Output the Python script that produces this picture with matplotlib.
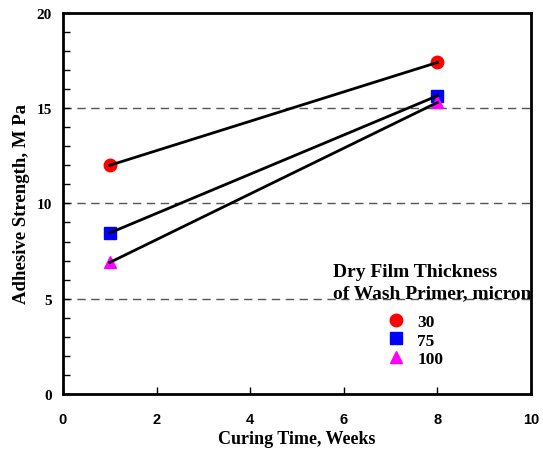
import numpy as np
import matplotlib.pyplot as plt
from matplotlib.ticker import MultipleLocator

# curing time (weeks) and adhesive strength (MPa) for each primer thickness
weeks = [1, 8]
dft_30 = [12.0, 17.4]
dft_75 = [8.45, 15.65]
dft_100 = [6.9, 15.3]
labels = ['30', '75', '100']

plt.rcParams['font.family'] = ['Liberation Serif', 'DejaVu Serif']
plt.rcParams['font.weight'] = 'bold'

fig = plt.figure(figsize=(5.43, 4.56), dpi=100)
ax = fig.add_axes([0.116, 0.134, 0.862, 0.8355])

# dashed reference lines
for yv in [5, 10, 15]:
    ax.axhline(yv, color='#555555', ls=(0, (6, 4)), lw=1, zorder=1)

h1, = ax.plot(weeks, dft_30, 'o', color='red', ms=9, zorder=2, label=labels[0])
h2, = ax.plot(weeks, dft_75, 's', color='blue', ms=9, zorder=2, label=labels[1])
h3, = ax.plot(weeks, dft_100, '^', color='magenta', ms=9, zorder=2, label=labels[2])
for ys in [dft_30, dft_75, dft_100]:
    ax.plot(weeks, ys, color='black', lw=2, zorder=3)

ax.set_xlim(0, 10)
ax.set_ylim(0, 20)
ax.xaxis.set_major_locator(MultipleLocator(2))
ax.yaxis.set_major_locator(MultipleLocator(5))
ax.yaxis.set_minor_locator(MultipleLocator(1))
ax.tick_params(direction='in', top=False, right=False, width=1, length=5)
ax.tick_params(which='minor', direction='in', width=1, length=5)
ax.tick_params(axis='y', labelsize=11, pad=8)
ax.tick_params(axis='x', labelsize=10.5, pad=13)
for t in ax.get_xticklabels():
    t.set_family(['Liberation Sans', 'DejaVu Sans'])
for s in ax.spines.values():
    s.set_linewidth(2)

ax.set_xlabel('Curing Time, Weeks', fontsize=13, fontweight='bold', labelpad=3)
ax.set_ylabel('Adhesive Strength, M Pa', fontsize=13.5, fontweight='bold', labelpad=5)

ax.text(0.577, 0.294, 'Dry Film Thickness\nof Wash Primer, micron', transform=ax.transAxes,
        ha='left', va='center', fontsize=14, fontweight='bold', linespacing=1.3)
ax.legend(handles=[h1, h2, h3], loc='upper left', bbox_to_anchor=(0.675, 0.232),
          frameon=False, fontsize=12.5, handlelength=1.0, handletextpad=0.7,
          labelspacing=0.12, borderpad=0)

fig.savefig('out.png', dpi=100)
